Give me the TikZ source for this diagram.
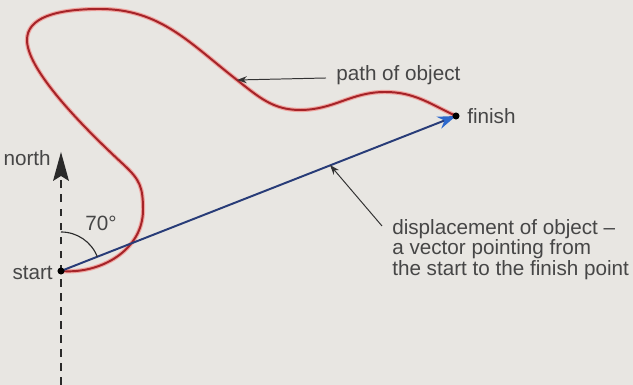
\documentclass[tikz,border=0pt]{standalone}
\usepackage{fontspec}
\setmainfont{Liberation Sans}
\usetikzlibrary{arrows.meta}
\definecolor{paper}{RGB}{232,230,226}
\definecolor{ink}{RGB}{70,70,70}
\definecolor{pathred}{RGB}{165,35,40}
\definecolor{halo}{RGB}{240,165,160}
\definecolor{navy}{RGB}{40,60,120}
\definecolor{tipblue}{RGB}{45,105,205}
\tikzset{
  lbl/.style={text=ink,inner sep=0pt,font=\fontsize{14.7}{13.6}\selectfont},
  pointer/.style={draw=black!80,line width=0.7pt,-{Stealth[length=7pt,width=5pt]}},
  dot/.style={circle,fill=black,inner sep=0pt,minimum size=5pt}
}
\begin{document}
\begin{tikzpicture}[x=0.025cm,y=0.025cm]
		\fill[paper] (0,0) rectangle (633,385);
		\useasboundingbox (0,0) rectangle (633,385);
		\coordinate (S) at (61,114);
		\coordinate (F) at (456,269);
		\coordinate (N) at (61,233);
		\coordinate (B) at (61,0);
		\coordinate (P) at (237,305);
		\coordinate (D) at (330,220);
		% north line
		\draw [ink!60!black,line width=2pt,dash pattern=on 5.5pt off 4.5pt] (B)--(61,205);
		\fill [ink!60!black] (N)--(69,204)--(61,209)--(53,204)--cycle;
		\node (north) at (51,227) [lbl,anchor=east] {north};
		% path of object
		\foreach \c/\w in {halo/3pt,pathred/1.4pt}
			\draw [\c,line width=\w,line join=round] (S) to[out=-5,in=-90] (143,175)
				.. controls (143,198) and (140,205) .. (124,220)
				.. controls (72,268) and (27,318) .. (27,345)
				.. controls (27,367) and (55,376) .. (100,376)
				to[out=0,in=142] (P) to[out=-38,in=180] (300,275)
				to[out=0,in=180] (385,293) to[out=0,in=155] (F);
		% displacement
		\draw [navy,line width=1.4pt,-{Stealth[length=13pt,width=9pt,color=tipblue]}] (S)--(F);
		\draw [ink!60!black,line width=0.8pt] (S) ++(0,0.975cm) arc (90:21.4:0.975cm);
		\node (ang) at (101,162) [lbl] {70°};
		\node (s) at (S) [dot] {};
		\node (f) at (F) [dot] {};
		\node (startlbl) at (53,112) [lbl,anchor=east] {start};
		\node (finishlbl) at (467,269) [lbl,anchor=west] {finish};
		% labels
		\node (pathlbl) at (336,310) [lbl,anchor=west] {path of object};
		\draw [pointer] (pathlbl.west) ++(-10,-3) coordinate (p1) (p1)--(P);
		\node (displbl) at (392,166) [lbl,anchor=north west,align=left] {displacement of object --\\a vector pointing from\\the start to the finish point};
		\coordinate (d1) at (382,159);
		\draw [pointer] (d1)--(D);
\end{tikzpicture}
\end{document}
